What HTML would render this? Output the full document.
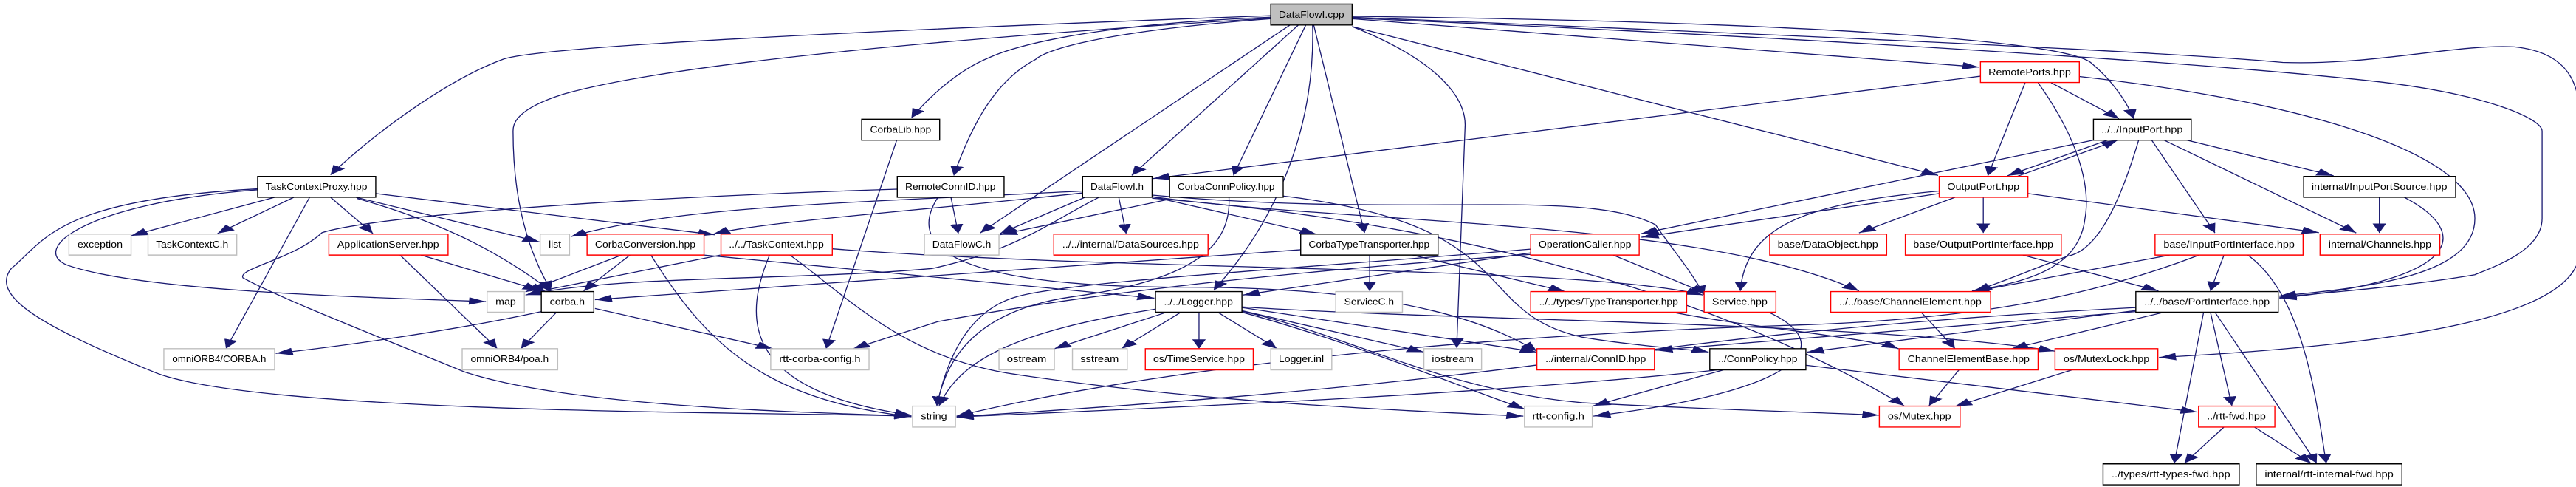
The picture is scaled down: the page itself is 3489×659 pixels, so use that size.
<!DOCTYPE html>
<html><head><meta charset="utf-8"><style>
html,body{margin:0;padding:0;background:#fff;width:3489px;height:659px;overflow:hidden}
svg{display:block}
.e{fill:none;stroke:#191970;stroke-width:1.3px;vector-effect:non-scaling-stroke}
.b{fill:#fff;stroke:#000;stroke-width:1.4px;vector-effect:non-scaling-stroke}
.g{fill:#fff;stroke:#bfbfbf;stroke-width:1.4px;vector-effect:non-scaling-stroke}
.r{fill:#fff;stroke:#ff0000;stroke-width:1.4px;vector-effect:non-scaling-stroke}
.c{fill:#bfbfbf;stroke:#000;stroke-width:1.4px;vector-effect:non-scaling-stroke}
text{font-family:"Liberation Sans","DejaVu Sans",sans-serif;font-size:30px;fill:#000;text-anchor:middle}
</style></head><body>
<svg width="3489" height="659" viewBox="0 0 4559 1560" preserveAspectRatio="none" xmlns="http://www.w3.org/2000/svg">
<defs><marker id="a" markerUnits="userSpaceOnUse" markerWidth="34" markerHeight="30" refX="30" refY="12" orient="auto"><path d="M0,0 L30,12 L0,24 z" fill="#191970"/></marker></defs>
<g marker-end="url(#a)">
<path class="e" d="M2249,50 C1500,100 950,150 890,190 C800,250 680,400 585,560"/>
<path class="e" d="M2249,58 C1700,120 1200,200 1000,300 C910,350 908,400 908,420 C908,700 950,850 975,930"/>
<path class="e" d="M2249,55 C1900,80 1780,160 1750,185 C1690,230 1640,320 1613,378"/>
<path class="e" d="M2249,60 C1950,100 1850,160 1833,190 C1760,260 1720,400 1688,562"/>
<path class="e" d="M2283,80 L1735,746"/>
<path class="e" d="M2298,80 L2003,562"/>
<path class="e" d="M2311,80 L2183,562"/>
<path class="e" d="M2323,80 C2328,400 2263,700 2148,930"/>
<path class="e" d="M2325,80 L2415,746"/>
<path class="e" d="M2393,85 C2553,200 2593,320 2593,400 L2578,1114"/>
<path class="e" d="M2393,85 L3430,562"/>
<path class="e" d="M2393,60 L3503,215"/>
<path class="e" d="M2393,52 C3200,70 3650,130 3700,200 C3740,260 3765,330 3776,380"/>
<path class="e" d="M2393,55 C3000,100 3800,160 4040,200 C4200,210 4350,140 4450,150 C4560,170 4566,300 4566,400 L4566,800 C4566,1000 4300,1100 3821,1145"/>
<path class="e" d="M2393,58 C3200,120 3900,200 4200,260 C4400,300 4499,380 4499,420 L4499,700 C4499,800 4420,850 4380,880 C4250,920 4100,940 4034,952"/>
<path class="e" d="M3680,245 C4100,330 4380,500 4380,700 C4380,880 4200,920 4034,948"/>
<path class="e" d="M3505,244 L2041,572"/>
<path class="e" d="M3584,265 L3518,563"/>
<path class="e" d="M3630,265 L3750,380"/>
<path class="e" d="M3607,265 C3680,450 3700,600 3690,700 C3680,850 3600,900 3490,932"/>
<path class="e" d="M3730,449 L3553,563"/>
<path class="e" d="M3570,565 L3748,449"/>
<path class="e" d="M3705,449 L2905,748"/>
<path class="e" d="M3870,449 L4130,563"/>
<path class="e" d="M3830,449 L4170,746"/>
<path class="e" d="M3808,449 L3920,746"/>
<path class="e" d="M3785,449 C3760,600 3720,800 3660,820 C3600,860 3550,900 3495,932"/>
<path class="e" d="M3460,632 L3290,746"/>
<path class="e" d="M3510,632 L3510,746"/>
<path class="e" d="M3589,620 L4104,745"/>
<path class="e" d="M3432,612 C3200,650 3090,720 3080,932"/>
<path class="e" d="M3432,620 L2905,760"/>
<path class="e" d="M4211,632 L4211,746"/>
<path class="e" d="M4255,632 C4380,750 4350,900 4034,955"/>
<path class="e" d="M3580,817 L3820,932"/>
<path class="e" d="M3936,817 L3912,932"/>
<path class="e" d="M3840,817 L3490,935"/>
<path class="e" d="M3978,817 C4080,950 4100,1300 4117,1484"/>
<path class="e" d="M3892,817 C3700,950 3500,1020 3200,1040 C2500,1080 2000,1200 1693,1333"/>
<path class="e" d="M3800,990 L3198,1128"/>
<path class="e" d="M3830,1000 L3560,1117"/>
<path class="e" d="M3912,1000 L3950,1300"/>
<path class="e" d="M3900,1000 L3848,1484"/>
<path class="e" d="M3920,1000 L4100,1484"/>
<path class="e" d="M3780,985 C3300,1030 3000,1100 2800,1150 C2400,1250 2000,1300 1693,1335"/>
<path class="e" d="M3780,998 L2930,1122"/>
<path class="e" d="M3400,1000 L3460,1117"/>
<path class="e" d="M3467,1185 L3414,1300"/>
<path class="e" d="M3667,1185 L3460,1302"/>
<path class="e" d="M3040,1185 C2600,1270 2000,1310 1693,1336"/>
<path class="e" d="M3050,1185 L2820,1300"/>
<path class="e" d="M3196,1170 L3889,1320"/>
<path class="e" d="M3936,1368 L3866,1484"/>
<path class="e" d="M3990,1368 L4090,1484"/>
<path class="e" d="M3130,1000 C3250,1100 3200,1250 2820,1333"/>
<path class="e" d="M2855,817 L3020,940"/>
<path class="e" d="M2709,810 L2200,945"/>
<path class="e" d="M2709,798 C2300,860 1900,900 1800,950 C1700,1000 1670,1200 1658,1300"/>
<path class="e" d="M2424,817 L2424,932"/>
<path class="e" d="M2500,817 L2770,934"/>
<path class="e" d="M2302,800 L1053,960"/>
<path class="e" d="M2960,1000 C3100,1050 3300,1080 3360,1117"/>
<path class="e" d="M2065,1000 L1866,1117"/>
<path class="e" d="M2090,1000 L1985,1117"/>
<path class="e" d="M2122,1000 L2122,1117"/>
<path class="e" d="M2155,1000 L2260,1117"/>
<path class="e" d="M2198,995 L2520,1128"/>
<path class="e" d="M2045,990 C1800,1060 1700,1150 1662,1300"/>
<path class="e" d="M2198,1000 C2400,1100 2600,1250 2698,1310"/>
<path class="e" d="M2198,997 C2400,1080 2550,1250 2800,1290 C3000,1310 3200,1320 3326,1330"/>
<path class="e" d="M2198,985 L2720,1128"/>
<path class="e" d="M2198,983 C2600,1030 3300,1030 3637,1125"/>
<path class="e" d="M1246,817 L2043,955"/>
<path class="e" d="M1100,817 L930,935"/>
<path class="e" d="M1115,817 L1033,932"/>
<path class="e" d="M1152,817 C1250,1100 1350,1280 1613,1335"/>
<path class="e" d="M1275,817 L935,940"/>
<path class="e" d="M1362,817 C1320,1000 1300,1250 1613,1330"/>
<path class="e" d="M1473,797 C2000,870 2800,850 3014,945"/>
<path class="e" d="M1398,817 C1500,950 1600,1150 1800,1200 C2100,1280 2400,1310 2696,1333"/>
<path class="e" d="M2709,815 C2200,880 1900,950 1660,1030 L1510,1117"/>
<path class="e" d="M958,998 C800,1060 600,1110 488,1132"/>
<path class="e" d="M985,1000 L922,1117"/>
<path class="e" d="M1053,988 L1368,1117"/>
<path class="e" d="M1587,449 L1462,1117"/>
<path class="e" d="M745,817 L955,930"/>
<path class="e" d="M708,817 L880,1117"/>
<path class="e" d="M486,632 L232,755"/>
<path class="e" d="M520,632 L385,748"/>
<path class="e" d="M585,632 L660,748"/>
<path class="e" d="M548,632 L400,1117"/>
<path class="e" d="M630,632 L955,775"/>
<path class="e" d="M632,636 C800,720 900,830 975,932"/>
<path class="e" d="M665,620 L1265,752"/>
<path class="e" d="M456,608 C150,650 50,800 120,850 C250,930 600,950 860,966"/>
<path class="e" d="M456,605 C100,640 80,770 20,860 C-20,950 80,1050 270,1190 C450,1330 1400,1320 1613,1333"/>
<path class="e" d="M1683,632 L1696,748"/>
<path class="e" d="M1660,632 C1600,800 1700,920 2100,920 C2500,920 2650,1050 2720,1125"/>
<path class="e" d="M1588,606 C1000,640 650,700 570,745 C520,830 420,860 430,890 C500,960 700,1100 820,1190 C1000,1300 1400,1320 1613,1333"/>
<path class="e" d="M1916,612 C1500,650 1200,660 1010,758"/>
<path class="e" d="M1920,632 L1770,748"/>
<path class="e" d="M1980,632 L1993,748"/>
<path class="e" d="M2039,630 L2330,750"/>
<path class="e" d="M1945,632 C1850,720 1800,800 1650,860 C1400,900 1100,880 930,945"/>
<path class="e" d="M1916,618 C1600,680 1350,710 1262,750"/>
<path class="e" d="M2039,630 C2400,720 3000,700 3290,932"/>
<path class="e" d="M2039,625 C2500,700 2800,600 2930,720 C2960,800 2990,860 3016,945"/>
<path class="e" d="M2039,635 C2500,700 3000,900 3370,1300"/>
<path class="e" d="M2070,638 L1770,752"/>
<path class="e" d="M2175,632 C2180,800 2100,900 1900,950 C1700,1000 1670,1200 1658,1300"/>
<path class="e" d="M2271,628 C2700,720 2600,1000 2800,1080 C2900,1110 3000,1120 3024,1128"/>
</g>
<g>
<rect class="c" x="2249" y="13" width="144" height="67"/><text x="2321" y="57" textLength="116" lengthAdjust="spacingAndGlyphs">DataFlowI.cpp</text>
<rect class="b" x="456" y="565" width="209" height="67"/><text x="560" y="608" textLength="180" lengthAdjust="spacingAndGlyphs">TaskContextProxy.hpp</text>
<rect class="g" x="122" y="750" width="110" height="67"/><text x="177" y="793" textLength="80" lengthAdjust="spacingAndGlyphs">exception</text>
<rect class="g" x="262" y="750" width="157" height="67"/><text x="340" y="793" textLength="128" lengthAdjust="spacingAndGlyphs">TaskContextC.h</text>
<rect class="r" x="582" y="750" width="211" height="67"/><text x="687" y="793" textLength="180" lengthAdjust="spacingAndGlyphs">ApplicationServer.hpp</text>
<rect class="g" x="956" y="750" width="52" height="67"/><text x="982" y="793" textLength="22" lengthAdjust="spacingAndGlyphs">list</text>
<rect class="r" x="1039" y="750" width="207" height="67"/><text x="1142" y="793" textLength="178" lengthAdjust="spacingAndGlyphs">CorbaConversion.hpp</text>
<rect class="r" x="1276" y="750" width="197" height="67"/><text x="1374" y="793" textLength="168" lengthAdjust="spacingAndGlyphs">../../TaskContext.hpp</text>
<rect class="g" x="862" y="934" width="66" height="66"/><text x="895" y="977" textLength="36" lengthAdjust="spacingAndGlyphs">map</text>
<rect class="b" x="958" y="934" width="93" height="66"/><text x="1004" y="977" textLength="62" lengthAdjust="spacingAndGlyphs">corba.h</text>
<rect class="g" x="290" y="1117" width="196" height="68"/><text x="388" y="1160" textLength="166" lengthAdjust="spacingAndGlyphs">omniORB4/CORBA.h</text>
<rect class="g" x="818" y="1117" width="169" height="68"/><text x="902" y="1160" textLength="138" lengthAdjust="spacingAndGlyphs">omniORB4/poa.h</text>
<rect class="g" x="1364" y="1117" width="174" height="68"/><text x="1451" y="1160" textLength="144" lengthAdjust="spacingAndGlyphs">rtt-corba-config.h</text>
<rect class="b" x="1525" y="382" width="138" height="67"/><text x="1594" y="425" textLength="108" lengthAdjust="spacingAndGlyphs">CorbaLib.hpp</text>
<rect class="b" x="1588" y="565" width="189" height="67"/><text x="1682" y="608" textLength="160" lengthAdjust="spacingAndGlyphs">RemoteConnID.hpp</text>
<rect class="b" x="1916" y="565" width="123" height="67"/><text x="1977" y="608" textLength="94" lengthAdjust="spacingAndGlyphs">DataFlowI.h</text>
<rect class="b" x="2070" y="565" width="201" height="67"/><text x="2170" y="608" textLength="172" lengthAdjust="spacingAndGlyphs">CorbaConnPolicy.hpp</text>
<rect class="g" x="1636" y="750" width="132" height="67"/><text x="1702" y="793" textLength="104" lengthAdjust="spacingAndGlyphs">DataFlowC.h</text>
<rect class="r" x="1865" y="750" width="273" height="67"/><text x="2001" y="793" textLength="242" lengthAdjust="spacingAndGlyphs">../../internal/DataSources.hpp</text>
<rect class="b" x="2302" y="750" width="243" height="67"/><text x="2423" y="793" textLength="214" lengthAdjust="spacingAndGlyphs">CorbaTypeTransporter.hpp</text>
<rect class="r" x="2709" y="750" width="192" height="67"/><text x="2805" y="793" textLength="164" lengthAdjust="spacingAndGlyphs">OperationCaller.hpp</text>
<rect class="b" x="2045" y="934" width="153" height="66"/><text x="2121" y="977" textLength="122" lengthAdjust="spacingAndGlyphs">../../Logger.hpp</text>
<rect class="g" x="2364" y="934" width="118" height="66"/><text x="2423" y="977" textLength="88" lengthAdjust="spacingAndGlyphs">ServiceC.h</text>
<rect class="r" x="2709" y="934" width="276" height="66"/><text x="2847" y="977" textLength="246" lengthAdjust="spacingAndGlyphs">../../types/TypeTransporter.hpp</text>
<rect class="g" x="1768" y="1117" width="98" height="68"/><text x="1817" y="1160" textLength="70" lengthAdjust="spacingAndGlyphs">ostream</text>
<rect class="g" x="1898" y="1117" width="97" height="68"/><text x="1946" y="1160" textLength="68" lengthAdjust="spacingAndGlyphs">sstream</text>
<rect class="r" x="2027" y="1117" width="191" height="68"/><text x="2122" y="1160" textLength="162" lengthAdjust="spacingAndGlyphs">os/TimeService.hpp</text>
<rect class="g" x="2249" y="1117" width="108" height="68"/><text x="2303" y="1160" textLength="80" lengthAdjust="spacingAndGlyphs">Logger.inl</text>
<rect class="g" x="2520" y="1117" width="102" height="68"/><text x="2571" y="1160" textLength="74" lengthAdjust="spacingAndGlyphs">iostream</text>
<rect class="r" x="2720" y="1117" width="208" height="68"/><text x="2824" y="1160" textLength="178" lengthAdjust="spacingAndGlyphs">../internal/ConnID.hpp</text>
<rect class="g" x="1615" y="1301" width="76" height="67"/><text x="1653" y="1344" textLength="46" lengthAdjust="spacingAndGlyphs">string</text>
<rect class="g" x="2698" y="1301" width="120" height="67"/><text x="2758" y="1344" textLength="92" lengthAdjust="spacingAndGlyphs">rtt-config.h</text>
<rect class="r" x="3505" y="198" width="175" height="66"/><text x="3592" y="241" textLength="146" lengthAdjust="spacingAndGlyphs">RemotePorts.hpp</text>
<rect class="b" x="3705" y="382" width="173" height="67"/><text x="3791" y="425" textLength="144" lengthAdjust="spacingAndGlyphs">../../InputPort.hpp</text>
<rect class="r" x="3432" y="565" width="157" height="67"/><text x="3510" y="608" textLength="128" lengthAdjust="spacingAndGlyphs">OutputPort.hpp</text>
<rect class="b" x="4077" y="565" width="269" height="67"/><text x="4211" y="608" textLength="240" lengthAdjust="spacingAndGlyphs">internal/InputPortSource.hpp</text>
<rect class="r" x="3132" y="750" width="207" height="67"/><text x="3235" y="793" textLength="178" lengthAdjust="spacingAndGlyphs">base/DataObject.hpp</text>
<rect class="r" x="3372" y="750" width="276" height="67"/><text x="3510" y="793" textLength="248" lengthAdjust="spacingAndGlyphs">base/OutputPortInterface.hpp</text>
<rect class="r" x="3814" y="750" width="262" height="67"/><text x="3945" y="793" textLength="232" lengthAdjust="spacingAndGlyphs">base/InputPortInterface.hpp</text>
<rect class="r" x="4106" y="750" width="212" height="67"/><text x="4212" y="793" textLength="182" lengthAdjust="spacingAndGlyphs">internal/Channels.hpp</text>
<rect class="r" x="3016" y="934" width="127" height="66"/><text x="3079" y="977" textLength="98" lengthAdjust="spacingAndGlyphs">Service.hpp</text>
<rect class="r" x="3240" y="934" width="283" height="66"/><text x="3381" y="977" textLength="252" lengthAdjust="spacingAndGlyphs">../../base/ChannelElement.hpp</text>
<rect class="b" x="3780" y="934" width="252" height="66"/><text x="3906" y="977" textLength="222" lengthAdjust="spacingAndGlyphs">../../base/PortInterface.hpp</text>
<rect class="b" x="3026" y="1117" width="170" height="68"/><text x="3111" y="1160" textLength="140" lengthAdjust="spacingAndGlyphs">../ConnPolicy.hpp</text>
<rect class="r" x="3361" y="1117" width="246" height="68"/><text x="3484" y="1160" textLength="216" lengthAdjust="spacingAndGlyphs">ChannelElementBase.hpp</text>
<rect class="r" x="3637" y="1117" width="182" height="68"/><text x="3728" y="1160" textLength="152" lengthAdjust="spacingAndGlyphs">os/MutexLock.hpp</text>
<rect class="r" x="3326" y="1301" width="143" height="67"/><text x="3397" y="1344" textLength="112" lengthAdjust="spacingAndGlyphs">os/Mutex.hpp</text>
<rect class="r" x="3891" y="1301" width="135" height="67"/><text x="3958" y="1344" textLength="104" lengthAdjust="spacingAndGlyphs">../rtt-fwd.hpp</text>
<rect class="b" x="3722" y="1486" width="241" height="67"/><text x="3842" y="1529" textLength="210" lengthAdjust="spacingAndGlyphs">../types/rtt-types-fwd.hpp</text>
<rect class="b" x="3993" y="1486" width="258" height="67"/><text x="4122" y="1529" textLength="228" lengthAdjust="spacingAndGlyphs">internal/rtt-internal-fwd.hpp</text>
</g>
</svg>
</body></html>
